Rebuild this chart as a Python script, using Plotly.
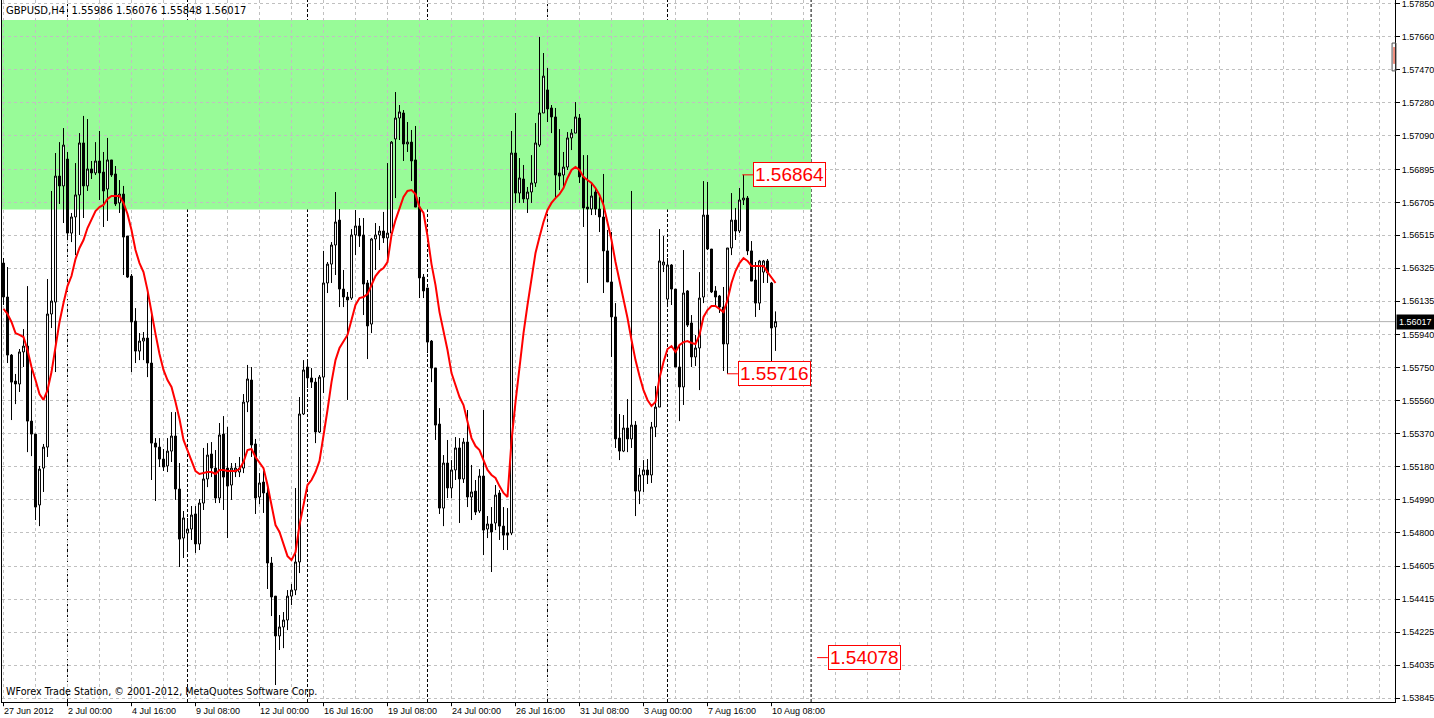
import plotly.graph_objects as go

# GBPUSD H4 bars, 27 Jun 2012 08:00 .. 10 Aug 2012 12:00 (bar index 0..193)
opens = [
    1.56355, 1.56159, 1.55824, 1.55674, 1.55657, 1.55842, 1.55876, 1.55443, 1.55368, 1.54959,
    1.55172, 1.55293, 1.56061, 1.56130, 1.56857, 1.56800, 1.56955, 1.56528, 1.56621, 1.56748,
    1.57048, 1.56800, 1.56898, 1.56875, 1.56944, 1.56880, 1.56782, 1.56950, 1.56869, 1.56702,
    1.56753, 1.56511, 1.56280, 1.56020, 1.55847, 1.55905, 1.55922, 1.55778, 1.55316, 1.55293,
    1.55224, 1.55184, 1.55270, 1.55357, 1.55051, 1.54768, 1.54797, 1.54820, 1.54907, 1.54734,
    1.54970, 1.55109, 1.55253, 1.55172, 1.54999, 1.55368, 1.55172, 1.55074, 1.55149, 1.55149,
    1.55172, 1.55553, 1.55680, 1.55311, 1.55005, 1.55091, 1.55028, 1.54624, 1.54433, 1.54203,
    1.54255, 1.54295, 1.54433, 1.54468, 1.54630, 1.55484, 1.55755, 1.55692, 1.55668, 1.55380,
    1.55697, 1.56240, 1.56349, 1.56459, 1.56603, 1.56205, 1.56159, 1.56153, 1.56517, 1.56569,
    1.56517, 1.56240, 1.56003, 1.56494, 1.56517, 1.56540, 1.56500, 1.56528, 1.57071, 1.57192,
    1.57221, 1.57042, 1.57053, 1.56950, 1.56678, 1.56274, 1.56211, 1.55905, 1.55749, 1.55426,
    1.54941, 1.55201, 1.55057, 1.55161, 1.55288, 1.55109, 1.55322, 1.55005, 1.55039, 1.54924,
    1.55126, 1.54820, 1.54849, 1.54855, 1.55028, 1.54837, 1.54797, 1.54797, 1.56990, 1.56759,
    1.56840, 1.56725, 1.56765, 1.56817, 1.57036, 1.57221, 1.57354, 1.57250, 1.57198, 1.56875,
    1.56863, 1.56909, 1.57077, 1.57105, 1.57192, 1.56852, 1.56678, 1.56667, 1.56765, 1.56667,
    1.56621, 1.56425, 1.56246, 1.56044, 1.55345, 1.55270, 1.55403, 1.55340, 1.55420, 1.55039,
    1.55132, 1.55161, 1.55132, 1.55409, 1.55524, 1.56344, 1.56147, 1.56344, 1.56205, 1.55755,
    1.55640, 1.56194, 1.56009, 1.55813, 1.55865, 1.56159, 1.56632, 1.56436, 1.56194, 1.56165,
    1.56101, 1.55888, 1.56442, 1.56603, 1.56540, 1.56719, 1.56730, 1.56425, 1.56257, 1.56124,
    1.56303, 1.56367, 1.56240, 1.55986,
]
highs = [
    1.56384, 1.56332, 1.55830, 1.55715, 1.55859, 1.55974, 1.56222, 1.55755, 1.55368, 1.55184,
    1.55311, 1.56263, 1.56771, 1.56990, 1.57053, 1.57134, 1.56996, 1.56644, 1.56932, 1.57105,
    1.57204, 1.57186, 1.56944, 1.57053, 1.57117, 1.56996, 1.57077, 1.56950, 1.56915, 1.56834,
    1.56800, 1.56511, 1.56292, 1.56095, 1.55951, 1.55957, 1.56205, 1.56055, 1.55345, 1.55345,
    1.55282, 1.55345, 1.55495, 1.55495, 1.55201, 1.54924, 1.54884, 1.54953, 1.54953, 1.54993,
    1.55288, 1.55316, 1.55322, 1.55276, 1.55432, 1.55472, 1.55409, 1.55201, 1.55201, 1.55236,
    1.55599, 1.55767, 1.55755, 1.55340, 1.55143, 1.55155, 1.55062, 1.54659, 1.54433, 1.54324,
    1.54341, 1.54468, 1.54503, 1.55057, 1.55582, 1.55795, 1.55795, 1.55749, 1.55692, 1.55709,
    1.56425, 1.56361, 1.56476, 1.56765, 1.56667, 1.56315, 1.56188, 1.56551, 1.56661, 1.56615,
    1.56615, 1.56257, 1.56500, 1.56586, 1.56569, 1.56650, 1.56932, 1.57059, 1.57342, 1.57267,
    1.57238, 1.57169, 1.57123, 1.57146, 1.56736, 1.56292, 1.56211, 1.55911, 1.55749, 1.55518,
    1.55247, 1.55334, 1.55218, 1.55351, 1.55345, 1.55345, 1.55507, 1.55190, 1.55103, 1.55166,
    1.55507, 1.54895, 1.54947, 1.55074, 1.55045, 1.54947, 1.54941, 1.57117, 1.57221, 1.56961,
    1.56921, 1.56794, 1.56978, 1.57163, 1.57660, 1.57567, 1.57481, 1.57267, 1.57250, 1.57128,
    1.56996, 1.57111, 1.57128, 1.57284, 1.57215, 1.56978, 1.56978, 1.56817, 1.56788, 1.56736,
    1.56869, 1.56546, 1.56534, 1.56124, 1.55484, 1.55478, 1.55570, 1.56771, 1.55443, 1.55172,
    1.55218, 1.55224, 1.55438, 1.55645, 1.56551, 1.56511, 1.56384, 1.56349, 1.56205, 1.55888,
    1.56430, 1.56199, 1.56055, 1.55940, 1.56303, 1.56828, 1.56823, 1.56436, 1.56222, 1.56171,
    1.56217, 1.56442, 1.56759, 1.56673, 1.56788, 1.56864, 1.56742, 1.56482, 1.56361, 1.56373,
    1.56373, 1.56378, 1.56246, 1.56076,
]
lows = [
    1.56113, 1.55778, 1.55449, 1.55541, 1.55611, 1.55755, 1.55264, 1.55241, 1.54872, 1.54837,
    1.55034, 1.55236, 1.55980, 1.55726, 1.56696, 1.56586, 1.56488, 1.56476, 1.56401, 1.56517,
    1.56615, 1.56771, 1.56840, 1.56863, 1.56719, 1.56563, 1.56598, 1.56852, 1.56684, 1.56644,
    1.56286, 1.56269, 1.55726, 1.55778, 1.55795, 1.55795, 1.55697, 1.55103, 1.54982, 1.55178,
    1.55155, 1.55149, 1.55207, 1.54988, 1.54601, 1.54653, 1.54699, 1.54757, 1.54682, 1.54699,
    1.54930, 1.55062, 1.55120, 1.54970, 1.54970, 1.54930, 1.54768, 1.54988, 1.55120, 1.55120,
    1.55143, 1.55495, 1.55236, 1.54907, 1.54964, 1.54913, 1.54474, 1.54318, 1.53920, 1.54122,
    1.54133, 1.54237, 1.54381, 1.54439, 1.54566, 1.55478, 1.55634, 1.55634, 1.55316, 1.55374,
    1.55605, 1.56182, 1.56240, 1.56286, 1.56101, 1.56101, 1.55565, 1.56142, 1.56401, 1.56448,
    1.56055, 1.55801, 1.55951, 1.56315, 1.56430, 1.56471, 1.56373, 1.56528, 1.56730, 1.57065,
    1.56944, 1.56996, 1.56828, 1.56678, 1.56153, 1.56153, 1.55836, 1.55668, 1.55334, 1.54907,
    1.54837, 1.54999, 1.54999, 1.55103, 1.54855, 1.55086, 1.54947, 1.54872, 1.54901, 1.54913,
    1.54670, 1.54768, 1.54572, 1.54814, 1.54757, 1.54699, 1.54699, 1.54785, 1.56702, 1.56702,
    1.56702, 1.56644, 1.56702, 1.56794, 1.57025, 1.57221, 1.57169, 1.57105, 1.56730, 1.56776,
    1.56788, 1.56892, 1.57007, 1.57105, 1.56817, 1.56563, 1.56240, 1.56632, 1.56632, 1.56534,
    1.56182, 1.56246, 1.55813, 1.55288, 1.55218, 1.55264, 1.55264, 1.55288, 1.54895, 1.54964,
    1.55034, 1.55080, 1.55086, 1.55351, 1.55524, 1.56303, 1.56101, 1.56113, 1.55755, 1.55443,
    1.55536, 1.55986, 1.55755, 1.55761, 1.55622, 1.56124, 1.56430, 1.56182, 1.56113, 1.56067,
    1.55732, 1.55716, 1.56401, 1.56488, 1.56528, 1.56690, 1.56401, 1.56251, 1.56044, 1.56084,
    1.56240, 1.56240, 1.55772, 1.55848,
]
closes = [
    1.56159, 1.55824, 1.55668, 1.55657, 1.55842, 1.55876, 1.55443, 1.55368, 1.54947, 1.55166,
    1.55293, 1.56061, 1.56136, 1.56857, 1.56800, 1.57036, 1.56528, 1.56621, 1.56748, 1.57048,
    1.56800, 1.56898, 1.56875, 1.56944, 1.56875, 1.56771, 1.56950, 1.56863, 1.56696, 1.56753,
    1.56505, 1.56274, 1.56015, 1.55847, 1.55905, 1.55922, 1.55778, 1.55316, 1.55293, 1.55224,
    1.55178, 1.55270, 1.55357, 1.55051, 1.54762, 1.54884, 1.54820, 1.54901, 1.54734, 1.54970,
    1.55109, 1.55247, 1.55172, 1.54999, 1.55363, 1.55120, 1.55068, 1.55172, 1.55172, 1.55172,
    1.55553, 1.55686, 1.55305, 1.54999, 1.55086, 1.55028, 1.54624, 1.54428, 1.54203, 1.54255,
    1.54295, 1.54433, 1.54468, 1.54630, 1.55484, 1.55738, 1.55692, 1.55668, 1.55380, 1.55697,
    1.56240, 1.56349, 1.56459, 1.56592, 1.56205, 1.56159, 1.56142, 1.56517, 1.56569, 1.56511,
    1.56234, 1.55992, 1.56494, 1.56517, 1.56540, 1.56500, 1.56528, 1.57053, 1.57192, 1.57227,
    1.57042, 1.57053, 1.56944, 1.56678, 1.56269, 1.56194, 1.55899, 1.55749, 1.55420, 1.54941,
    1.55201, 1.55057, 1.55161, 1.55288, 1.55109, 1.55322, 1.55005, 1.55034, 1.54918, 1.55126,
    1.54814, 1.54849, 1.54803, 1.55016, 1.54837, 1.54785, 1.54785, 1.56990, 1.56759, 1.56846,
    1.56725, 1.56765, 1.56817, 1.57048, 1.57221, 1.57434, 1.57244, 1.57198, 1.56863, 1.56857,
    1.56909, 1.57077, 1.57105, 1.57198, 1.56852, 1.56673, 1.56667, 1.56742, 1.56667, 1.56621,
    1.56425, 1.56246, 1.56044, 1.55340, 1.55270, 1.55403, 1.55340, 1.55420, 1.55039, 1.55132,
    1.55161, 1.55132, 1.55409, 1.55524, 1.56367, 1.56361, 1.56344, 1.56205, 1.55755, 1.55640,
    1.56182, 1.55997, 1.55813, 1.55865, 1.56153, 1.56632, 1.56436, 1.56188, 1.56159, 1.56101,
    1.55888, 1.56442, 1.56603, 1.56540, 1.56719, 1.56730, 1.56425, 1.56251, 1.56124, 1.56367,
    1.56367, 1.56298, 1.55980, 1.56017,
]
# red moving average line, read bar by bar
ma_line = [
    1.56090, 1.56061, 1.56015, 1.55951, 1.55940, 1.55928, 1.55853, 1.55755, 1.55680, 1.55599,
    1.55565, 1.55622, 1.55726, 1.55865, 1.56015, 1.56124, 1.56222, 1.56280, 1.56378, 1.56442,
    1.56488, 1.56557, 1.56609, 1.56655, 1.56678, 1.56690, 1.56725, 1.56742, 1.56742, 1.56742,
    1.56702, 1.56638, 1.56546, 1.56430, 1.56355, 1.56303, 1.56199, 1.56067, 1.55946, 1.55830,
    1.55738, 1.55680, 1.55640, 1.55553, 1.55455, 1.55334, 1.55276, 1.55207, 1.55155, 1.55138,
    1.55143, 1.55149, 1.55149, 1.55138, 1.55161, 1.55161, 1.55155, 1.55155, 1.55155, 1.55166,
    1.55207, 1.55276, 1.55282, 1.55236, 1.55207, 1.55172, 1.55074, 1.54959, 1.54843, 1.54803,
    1.54728, 1.54664, 1.54641, 1.54687, 1.54843, 1.54959, 1.55074, 1.55103, 1.55149, 1.55213,
    1.55351, 1.55507, 1.55668, 1.55795, 1.55865, 1.55905, 1.55940, 1.56026, 1.56113, 1.56153,
    1.56159, 1.56176, 1.56228, 1.56280, 1.56309, 1.56326, 1.56361, 1.56517, 1.56603, 1.56667,
    1.56736, 1.56771, 1.56776, 1.56753, 1.56678, 1.56644, 1.56511, 1.56349, 1.56228, 1.56072,
    1.55969, 1.55853, 1.55720, 1.55645, 1.55582, 1.55536, 1.55438, 1.55345, 1.55299, 1.55276,
    1.55218, 1.55161, 1.55132, 1.55115, 1.55068, 1.55028, 1.55005, 1.55328, 1.55553, 1.55767,
    1.55951, 1.56113, 1.56274, 1.56413, 1.56505, 1.56592, 1.56661, 1.56702, 1.56730, 1.56753,
    1.56788, 1.56846, 1.56892, 1.56909, 1.56892, 1.56852, 1.56834, 1.56817, 1.56788, 1.56748,
    1.56690, 1.56592, 1.56488, 1.56361, 1.56257, 1.56159, 1.56038, 1.55911, 1.55795, 1.55703,
    1.55622, 1.55565, 1.55530, 1.55553, 1.55692, 1.55784, 1.55859, 1.55876, 1.55842, 1.55882,
    1.55899, 1.55905, 1.55894, 1.55888, 1.55940, 1.56044, 1.56084, 1.56107, 1.56107, 1.56090,
    1.56072, 1.56142, 1.56240, 1.56309, 1.56355, 1.56384, 1.56367, 1.56338, 1.56338, 1.56338,
    1.56338, 1.56303, 1.56269, 1.56240,
]

tick_bars = [0, 16, 32, 48, 64, 80, 96, 112, 128, 144, 160, 176, 192]
tick_labels = ["27 Jun 2012", "2 Jul 00:00", "4 Jul 16:00", "9 Jul 08:00", "12 Jul 00:00",
               "16 Jul 16:00", "19 Jul 08:00", "24 Jul 00:00", "26 Jul 16:00", "31 Jul 08:00",
               "3 Aug 00:00", "7 Aug 16:00", "10 Aug 08:00"]
price_ticks = [1.57850, 1.57660, 1.57470, 1.57280, 1.57090, 1.56895, 1.56705, 1.56515,
               1.56325, 1.56135, 1.55940, 1.55750, 1.55560, 1.55370, 1.55180, 1.54990,
               1.54800, 1.54605, 1.54415, 1.54225, 1.54035, 1.53845]
week_starts = [16, 46, 76, 106, 136, 166]

zone_top = 1.57758
zone_bottom = 1.56664
zone_end = 201.9
last_price = 1.56017
levels = [1.56864, 1.55716, 1.54078]
level_bars = [187.4, 183.6, 206.1]

header = "GBPUSD,H4  1.55986 1.56076 1.55848 1.56017"
footer = "WForex Trade Station, \u00a9 2001-2012, MetaQuotes Software Corp."

bars = list(range(len(closes)))
FONT = "Liberation Sans"
SMALL = "DejaVu Sans"
GRID = "#c0c0c0"

fig = go.Figure()
fig.add_trace(go.Candlestick(
    x=bars, open=opens, high=highs, low=lows, close=closes,
    increasing=dict(line=dict(color="black", width=1), fillcolor="white"),
    decreasing=dict(line=dict(color="black", width=1), fillcolor="black"),
    whiskerwidth=0, showlegend=False, hoverinfo="skip"))
fig.add_trace(go.Scatter(x=bars, y=ma_line, mode="lines",
                         line=dict(color="#ff0000", width=2),
                         showlegend=False, hoverinfo="skip"))

shapes = [dict(type="rect", xref="x", yref="y", x0=-2, x1=zone_end,
               y0=zone_bottom, y1=zone_top, fillcolor="#98fb98",
               line=dict(width=0), layer="below")]
for b in week_starts + [zone_end]:
    shapes.append(dict(type="line", xref="x", yref="paper", x0=b, x1=b, y0=0, y1=1,
                       line=dict(color="black", width=1, dash="3px,2px"), layer="between"))
shapes.append(dict(type="line", xref="paper", yref="y", x0=0, x1=1,
                   y0=last_price, y1=last_price,
                   line=dict(color="#b0b0b0", width=1), layer="between"))
for p, b in zip(levels, level_bars):
    shapes.append(dict(type="line", xref="x", yref="y", x0=b - 2.7, x1=b, y0=p, y1=p,
                       line=dict(color="#ff0000", width=1)))
for b in tick_bars:
    shapes.append(dict(type="line", xref="x", yref="paper", x0=b, x1=b, y0=0, y1=-0.006,
                       line=dict(color="black", width=1)))
# tiny marker at the top right edge
shapes.append(dict(type="rect", xref="paper", yref="paper", x0=0.9979, x1=1.0007,
                   y0=0.899, y1=0.9387, line=dict(color="#505050", width=1)))
shapes.append(dict(type="line", xref="paper", yref="paper", x0=0.9993, x1=0.9993,
                   y0=0.909, y1=0.933, line=dict(color="#e02000", width=1)))

annotations = []
for p, b in zip(levels, level_bars):
    annotations.append(dict(x=b, y=p, xref="x", yref="y", text=f"{p:.5f}", showarrow=False,
                            xanchor="left", yanchor="middle",
                            font=dict(family=FONT, size=19, color="#ff0000"),
                            bgcolor="white", bordercolor="#ff0000", borderwidth=1,
                            borderpad=1))
for b, t in zip(tick_bars, tick_labels):
    annotations.append(dict(x=b, y=0, xref="x", yref="paper", text=t, showarrow=False,
                            xanchor="left", yanchor="top", xshift=-2, yshift=-2,
                            font=dict(family=FONT, size=9, color="black")))
annotations.append(dict(x=1, y=last_price, xref="paper", yref="y", text=f"{last_price:.5f}",
                        showarrow=False, xanchor="left", yanchor="middle", xshift=1,
                        font=dict(family=FONT, size=9, color="white"),
                        bgcolor="black", borderpad=2))
annotations.append(dict(x=0, y=1, xref="paper", yref="paper", text=header, showarrow=False,
                        xanchor="left", yanchor="top", xshift=2, yshift=-3,
                        font=dict(family=SMALL, size=10, color="black")))
annotations.append(dict(x=0, y=0, xref="paper", yref="paper", text=footer, showarrow=False,
                        xanchor="left", yanchor="bottom", xshift=2, yshift=3,
                        font=dict(family=SMALL, size=9.6, color="black")))

fig.update_layout(
    width=1434, height=718,
    margin=dict(l=2, r=39, t=0, b=16),
    paper_bgcolor="white", plot_bgcolor="white",
    shapes=shapes, annotations=annotations,
    showlegend=False,
    xaxis=dict(range=[-0.375, 347.875], rangeslider=dict(visible=False),
               tickmode="linear", tick0=0, dtick=8, showticklabels=False, ticks="",
               showgrid=True, gridcolor=GRID, griddash="3px,3px", gridwidth=1,
               showline=True, linecolor="black", linewidth=1, mirror=True,
               zeroline=False, fixedrange=True),
    yaxis=dict(range=[1.53822, 1.57873], side="right",
               tickmode="array", tickvals=price_ticks,
               ticktext=[f"{p:.5f}" for p in price_ticks],
               ticks="outside", ticklen=4, tickcolor="black", ticklabeloverflow="allow",
               tickfont=dict(family=FONT, size=9, color="black"),
               showgrid=True, gridcolor=GRID, griddash="3px,3px", gridwidth=1,
               showline=True, linecolor="black", linewidth=1, mirror=True,
               zeroline=False, fixedrange=True),
)

fig.write_html("out.html", config={"displayModeBar": False},
               post_script="document.body.style.margin='0';")
